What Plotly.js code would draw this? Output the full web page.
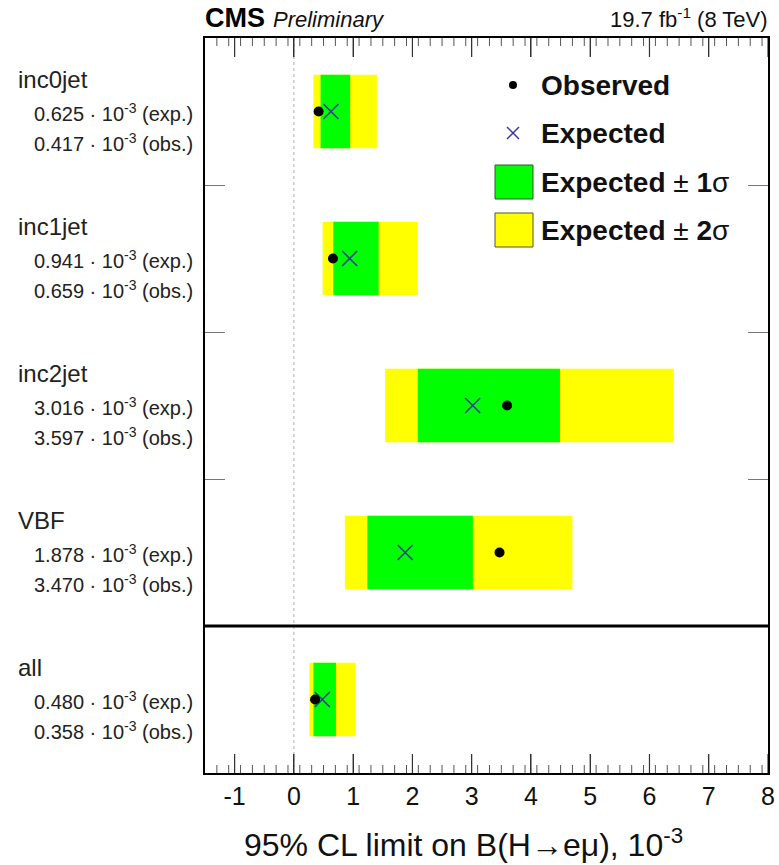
<!DOCTYPE html>
<html>
<head>
<meta charset="utf-8">
<script src="https://cdn.plot.ly/plotly-3.0.1.min.js"></script>
<style>html,body{margin:0;padding:0;background:#fff;}#chart{width:779px;height:865px;}</style>
</head>
<body>
<div id="chart"></div>
<script>
// ---- data ----
const categories = ["inc0jet", "inc1jet", "inc2jet", "VBF", "all"];
const expected   = [0.625, 0.941, 3.016, 1.878, 0.480];
const observed   = [0.417, 0.659, 3.597, 3.470, 0.358];
const minus2sig  = [0.33, 0.485, 1.54, 0.86, 0.26];
const minus1sig  = [0.45, 0.665, 2.09, 1.24, 0.33];
const plus1sig   = [0.95, 1.43, 4.49, 3.02, 0.71];
const plus2sig   = [1.40, 2.09, 6.41, 4.70, 1.04];
const xTickLabels = ["-1", "0", "1", "2", "3", "4", "5", "6", "7", "8"];

// ---- layout helpers ----
const W = 779, H = 865;
const L = 205, R = 768, T = 38, B = 773;
const px = x => (x - L) / (R - L);
const py = y => (B - y) / (B - T);
const FONT = "Liberation Sans, Arial, Helvetica, sans-serif";
const XR = [-1.5, 8];
const MINOR_STEP = 0.2;

const n = categories.length;
const rowY = categories.map((c, i) => n - i - 0.5);

const traces = [
  {
    type: "bar", orientation: "h", y: rowY,
    base: minus2sig, x: plus2sig.map((v, i) => v - minus2sig[i]),
    width: 0.5, marker: {color: "#ffff00", line: {width: 0}},
    hoverinfo: "skip", showlegend: false
  },
  {
    type: "bar", orientation: "h", y: rowY,
    base: minus1sig, x: plus1sig.map((v, i) => v - minus1sig[i]),
    width: 0.5, marker: {color: "#00ff00", line: {width: 0}},
    hoverinfo: "skip", showlegend: false
  },
  {
    type: "scatter", mode: "markers", x: expected, y: rowY,
    marker: {symbol: "x-thin-open", size: 15, color: "#2b3f8f", line: {width: 1.6, color: "#2b3f8f"}},
    showlegend: false
  },
  {
    type: "scatter", mode: "markers", x: observed, y: rowY,
    marker: {symbol: "circle", size: 10, color: "#000"},
    showlegend: false
  }
];

const annotations = [];
// Header
annotations.push({xref: "paper", yref: "paper", x: px(203), y: py(18), xanchor: "left", yanchor: "middle",
  text: "<b>CMS</b>", showarrow: false, font: {family: FONT, size: 27, color: "#000"}});
annotations.push({xref: "paper", yref: "paper", x: px(271), y: py(19), xanchor: "left", yanchor: "middle",
  text: "<i>Preliminary</i>", showarrow: false, font: {family: FONT, size: 22, color: "#111"}});
annotations.push({xref: "paper", yref: "paper", x: px(770), y: py(18), xanchor: "right", yanchor: "middle",
  text: "19.7 fb<sup>-1</sup> (8 TeV)", showarrow: false, font: {family: FONT, size: 22, color: "#111"}});
// X title
annotations.push({xref: "paper", yref: "paper", x: px(463), y: py(843), xanchor: "center", yanchor: "middle",
  text: "95% CL limit on B(H\u2192e\u03bc), 10<sup>-3</sup>", showarrow: false,
  font: {family: FONT, size: 32, color: "#111"}});

// Category labels
categories.forEach((c, i) => {
  const yc = rowY[i];
  annotations.push({xref: "paper", yref: "y", x: px(16), y: yc + 0.215, xanchor: "left", yanchor: "middle",
    text: c, showarrow: false, font: {family: FONT, size: 24, color: "#222"}});
  annotations.push({xref: "paper", yref: "y", x: px(195), y: yc - 0.005, xanchor: "right", yanchor: "middle",
    text: expected[i].toFixed(3) + " \u00b7 10<sup>-3</sup> (exp.)", showarrow: false,
    font: {family: FONT, size: 20, color: "#222"}});
  annotations.push({xref: "paper", yref: "y", x: px(195), y: yc - 0.21, xanchor: "right", yanchor: "middle",
    text: observed[i].toFixed(3) + " \u00b7 10<sup>-3</sup> (obs.)", showarrow: false,
    font: {family: FONT, size: 20, color: "#222"}});
});

// Legend text
const legY = [85, 133, 182, 230];
const legText = ["<b>Observed</b>", "<b>Expected</b>", "<b>Expected</b> \u00b1 <b>1</b>\u03c3", "<b>Expected</b> \u00b1 <b>2</b>\u03c3"];
legText.forEach((t, k) => {
  annotations.push({xref: "paper", yref: "paper", x: px(539), y: py(legY[k]), xanchor: "left", yanchor: "middle",
    text: t, showarrow: false, font: {family: FONT, size: 28, color: "#111"}});
});

const shapes = [
  // dashed zero line
  {type: "line", xref: "x", yref: "paper", x0: 0, x1: 0, y0: 0, y1: 1, layer: "below",
   line: {color: "#bbbbbb", width: 1.2, dash: "3px,3px"}},
  // thick separator
  {type: "line", xref: "paper", yref: "y", x0: 0, x1: 1, y0: 1, y1: 1, line: {color: "#000", width: 3}},
  // legend: observed dot
  {type: "circle", xref: "paper", yref: "paper", x0: px(509), x1: px(517), y0: py(89), y1: py(81),
   fillcolor: "#000", line: {color: "#000", width: 0}},
  // legend: expected X
  {type: "line", xref: "paper", yref: "paper", x0: px(507), x1: px(519), y0: py(127), y1: py(139), line: {color: "#3333aa", width: 1.5}},
  {type: "line", xref: "paper", yref: "paper", x0: px(507), x1: px(519), y0: py(139), y1: py(127), line: {color: "#3333aa", width: 1.5}},
  // legend boxes
  {type: "rect", xref: "paper", yref: "paper", x0: px(495), x1: px(533), y0: py(199), y1: py(165),
   fillcolor: "#00ff00", line: {color: "#335533", width: 1}},
  {type: "rect", xref: "paper", yref: "paper", x0: px(495), x1: px(533), y0: py(247), y1: py(213),
   fillcolor: "#ffff00", line: {color: "#555533", width: 1}}
];

// x-axis tick marks (major + minor, bottom and top), placed on the x scale
const plotH = B - T;
function addTick(xv, len, color, w) {
  const f = len / plotH;
  shapes.push({type: "line", xref: "x", yref: "paper", x0: xv, x1: xv, y0: 0, y1: f, line: {color: color, width: w}});
  shapes.push({type: "line", xref: "paper" === "x" ? "x" : "x", yref: "paper", x0: xv, x1: xv, y0: 1 - f, y1: 1, line: {color: color, width: w}});
}
const majorVals = xTickLabels.map(Number);
majorVals.forEach(v => addTick(v, 19, "#333", 1.2));
const nMinor = Math.round((XR[1] - XR[0]) / MINOR_STEP);
for (let k = 1; k < nMinor; k++) {
  const v = +(XR[0] + k * MINOR_STEP).toFixed(4);
  if (!majorVals.some(m => Math.abs(m - v) < 1e-6)) addTick(v, 8, "#555", 1);
}

const layout = {
  width: W, height: H,
  margin: {l: L, r: W - R, t: T, b: H - B, pad: 0},
  paper_bgcolor: "#fff", plot_bgcolor: "#fff",
  barmode: "overlay",
  showlegend: false,
  font: {family: FONT, color: "#111"},
  xaxis: {
    range: XR, tickmode: "array",
    tickvals: majorVals, ticktext: xTickLabels,
    ticks: "inside", ticklen: 19, tickwidth: 1.2, tickcolor: "#333",
    showline: true, linecolor: "#000", linewidth: 1.5, mirror: "ticks",
    showgrid: false, zeroline: false,
    tickfont: {family: FONT, size: 25, color: "#111"}
  },
  yaxis: {
    range: [0, n], tickmode: "array", tickvals: [1, 2, 3, 4], showticklabels: false,
    ticks: "inside", ticklen: 20, tickwidth: 1.2, tickcolor: "#777",
    showline: true, linecolor: "#000", linewidth: 1.5, mirror: "ticks",
    showgrid: false, zeroline: false
  },
  annotations: annotations,
  shapes: shapes
};

Plotly.newPlot("chart", traces, layout, {displayModeBar: false});
</script>
</body>
</html>
